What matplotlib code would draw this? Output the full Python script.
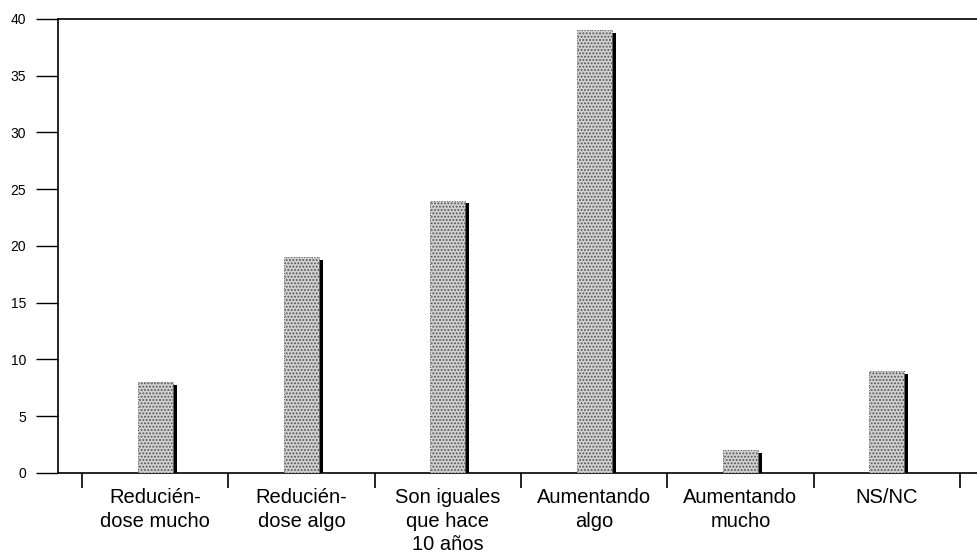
import numpy as np
import matplotlib
matplotlib.use('Agg')
import matplotlib.pyplot as plt

# datos
categorias = ['Reducién-\ndose mucho', 'Reducién-\ndose algo', 'Son iguales\nque hace\n10 años',
              'Aumentando\nalgo', 'Aumentando\nmucho', 'NS/NC']
valores = [8, 19, 24, 39, 2, 9]
yticks = [0, 5, 10, 15, 20, 25, 30, 35, 40]

plt.rcParams['font.family'] = ['Liberation Sans', 'DejaVu Sans']
plt.rcParams['hatch.color'] = '#333333'
plt.rcParams['hatch.linewidth'] = 0.9

fig = plt.figure(figsize=(9.78, 5.6), dpi=100)
ax = fig.add_axes([0.0593, 0.1554, 0.9407, 0.8107])

x = np.arange(len(categorias))
ancho = 0.24
sombra = 0.028

# sombra negra a la derecha de cada barra
ax.bar(x + ancho / 2 + sombra / 2, np.array(valores) - 0.25, width=sombra,
       color='black', linewidth=0, zorder=2)
# barra punteada
ax.bar(x, valores, width=ancho, color='#d0d0d0', hatch='.....',
       edgecolor='#555555', linewidth=0.7, linestyle=':', zorder=3)

ax.set_xlim(-0.664, 5.623)
ax.set_ylim(0, 40)

# eje y
ax.set_yticks(yticks)
ax.tick_params(axis='y', direction='out', length=16, width=1, pad=7, labelsize=10)

# eje x: marcas entre categorias, etiquetas centradas
ax.set_xticks(np.arange(-0.5, len(categorias)), labels=[''] * (len(categorias) + 1))
ax.set_xticks(x, labels=categorias, minor=True)
ax.tick_params(axis='x', which='major', direction='out', length=11, width=1.2)
ax.tick_params(axis='x', which='minor', length=0, pad=11, labelsize=14.5)
for t in ax.get_xticklabels(minor=True):
    t.set_linespacing(1.3)

ax.spines['right'].set_visible(False)
for s in ['left', 'top', 'bottom']:
    ax.spines[s].set_linewidth(1.2)

fig.savefig('out.png', dpi=100)
